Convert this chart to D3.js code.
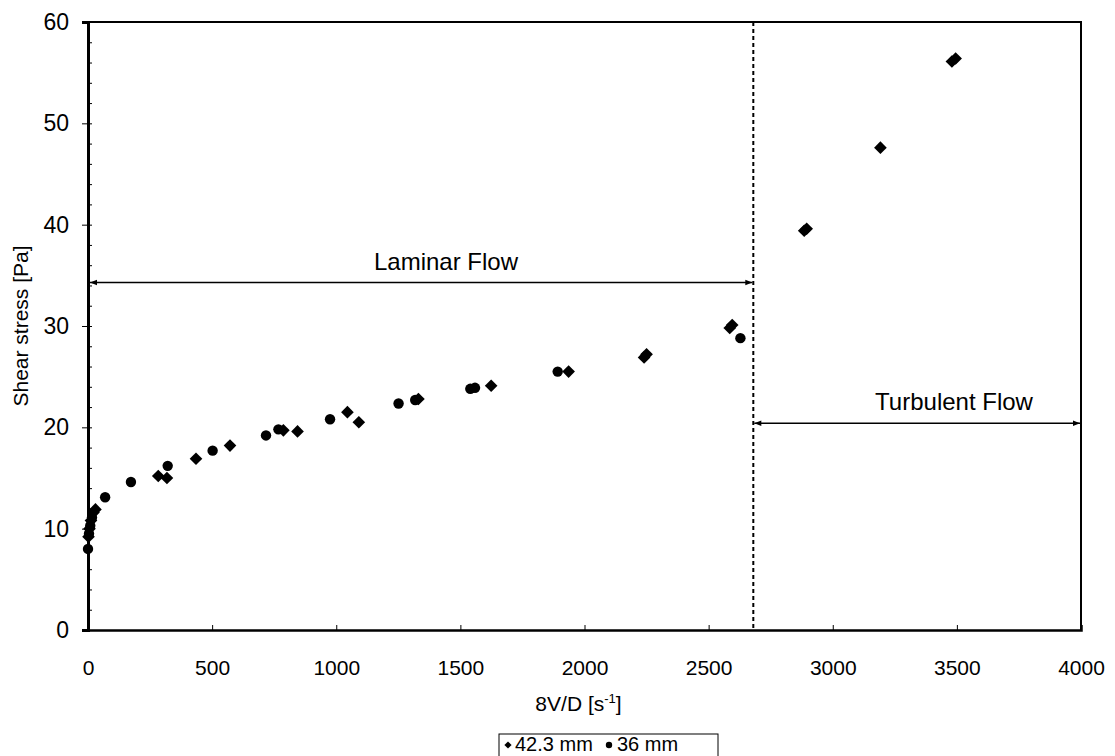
<!DOCTYPE html>
<html>
<head>
<meta charset="utf-8">
<script src="https://cdn.jsdelivr.net/npm/d3@7"></script>
<style>
    body { margin: 0; background: #fff; }
    svg { display: block; font-family: "Liberation Sans", Arial, sans-serif; }
</style>
</head>
<body>
<div id="chart"></div>
<script>
// 42.3 mm pipe (diamonds)
const pipe42X = [2, 6, 12, 22, 30, 283, 318, 435, 572, 787, 844, 1045, 1091, 1331, 1624, 1936,
    2240, 2250, 2585, 2595, 2885, 2895, 3192, 3480, 3495];
const pipe42Y = [9.2, 10.0, 10.8, 11.6, 11.9, 15.2, 15.0, 16.9, 18.2, 19.7, 19.6, 21.5, 20.5, 22.8, 24.1, 25.5,
    26.9, 27.2, 29.8, 30.1, 39.4, 39.6, 47.6, 56.1, 56.4];

// 36 mm pipe (circles)
const pipe36X = [0, 4, 9, 16, 69, 173, 321, 502, 717, 767, 975, 1251, 1318, 1540, 1559, 1892, 2628];
const pipe36Y = [8.0, 9.5, 10.3, 11.1, 13.1, 14.6, 16.2, 17.7, 19.2, 19.8, 20.8, 22.35, 22.7, 23.8, 23.9, 25.5, 28.8];

const xTicks = [0, 500, 1000, 1500, 2000, 2500, 3000, 3500, 4000];
const yTicks = [0, 10, 20, 30, 40, 50, 60];
const yMinorTicks = d3.range(0, 61, 2);

// flow regime boundary and arrow levels
const transitionX = 2680;
const laminarArrowY = 34.3;
const turbulentArrowY = 20.4;

const ShearChart = {
    init() {
        this.width = 1115;
        this.height = 756;
        this.svg = d3.select('#chart').append('svg')
            .attr('width', this.width)
            .attr('height', this.height);

        this.x = d3.scaleLinear().domain([0, 4000]).range([88, 1081]);
        this.y = d3.scaleLinear().domain([0, 60]).range([630, 22]);

        this.defineArrows();
        this.drawAxes();
        this.drawRegimes();
        this.drawPoints();
        this.drawLegend();
    },

    defineArrows() {
        const defs = this.svg.append('defs');
        ['end', 'start'].forEach(name => {
            defs.append('marker')
                .attr('id', 'arrow-' + name)
                .attr('viewBox', '0 -5 10 10')
                .attr('refX', name === 'end' ? 10 : 0)
                .attr('refY', 0)
                .attr('markerWidth', 10)
                .attr('markerHeight', 7)
                .attr('markerUnits', 'userSpaceOnUse')
                .attr('orient', 'auto')
                .append('path')
                .attr('d', name === 'end' ? 'M0,-4L10,0L0,4Z' : 'M10,-4L0,0L10,4Z')
                .attr('fill', '#000');
        });
    },

    drawAxes() {
        const { svg, x, y } = this;
        const [x0, x1] = x.range();
        const [y0, y1] = y.range();

        // frame: top and right edges
        svg.append('path')
            .attr('d', `M${x0},${y1}H${x1}V${y0}`)
            .attr('fill', 'none')
            .attr('stroke', '#000')
            .attr('stroke-width', 2);

        const xAxis = svg.append('g')
            .attr('transform', `translate(0,${y0})`)
            .call(d3.axisBottom(x).tickValues(xTicks).tickSize(-5).tickPadding(0).tickFormat(d3.format('d')));
        xAxis.select('.domain').attr('stroke-width', 2.5);
        xAxis.selectAll('.tick text')
            .attr('y', 45)
            .attr('dy', 0)
            .style('font-size', '21px')
            .attr('fill', '#000');

        // minor y ticks inside
        svg.append('g')
            .attr('transform', `translate(${x0},0)`)
            .call(d3.axisRight(y).tickValues(yMinorTicks).tickSize(4).tickFormat(''))
            .select('.domain').remove();

        const yAxis = svg.append('g')
            .attr('transform', `translate(${x0},0)`)
            .call(d3.axisLeft(y).tickValues(yTicks).tickSize(6).tickPadding(13));
        yAxis.select('.domain').attr('stroke-width', 3);
        yAxis.selectAll('.tick text')
            .style('font-size', '23px')
            .attr('fill', '#000');

        const xTitle = svg.append('text')
            .attr('x', (x0 + x1) / 2 - 6)
            .attr('y', 711)
            .attr('text-anchor', 'middle')
            .style('font-size', '21px');
        xTitle.append('tspan').text('8V/D [s');
        xTitle.append('tspan').attr('dy', -8).style('font-size', '13px').text('-1');
        xTitle.append('tspan').attr('dy', 8).text(']');

        svg.append('text')
            .attr('transform', `translate(28,${(y0 + y1) / 2}) rotate(-90)`)
            .attr('text-anchor', 'middle')
            .style('font-size', '21px')
            .text('Shear stress [Pa]');
    },

    drawRegimes() {
        const { svg, x, y } = this;

        svg.append('line')
            .attr('x1', x(transitionX)).attr('x2', x(transitionX))
            .attr('y1', y(60)).attr('y2', y(0))
            .attr('stroke', '#000')
            .attr('stroke-width', 2)
            .attr('stroke-dasharray', '4,3');

        svg.append('line')
            .attr('x1', x(0) + 2).attr('x2', x(transitionX) - 1)
            .attr('y1', y(laminarArrowY)).attr('y2', y(laminarArrowY))
            .attr('stroke', '#000')
            .attr('stroke-width', 1.5)
            .attr('marker-start', 'url(#arrow-start)')
            .attr('marker-end', 'url(#arrow-end)');

        svg.append('text')
            .attr('x', 446)
            .attr('y', 270)
            .attr('text-anchor', 'middle')
            .style('font-size', '24px')
            .text('Laminar Flow');

        svg.append('line')
            .attr('x1', x(transitionX) + 1).attr('x2', x(4000) - 1)
            .attr('y1', y(turbulentArrowY)).attr('y2', y(turbulentArrowY))
            .attr('stroke', '#000')
            .attr('stroke-width', 1.5)
            .attr('marker-start', 'url(#arrow-start)')
            .attr('marker-end', 'url(#arrow-end)');

        svg.append('text')
            .attr('x', 954)
            .attr('y', 410)
            .attr('text-anchor', 'middle')
            .style('font-size', '24px')
            .text('Turbulent Flow');
    },

    drawPoints() {
        const { svg, x, y } = this;
        const diamond = d3.symbol().type(d3.symbolSquare).size(80);
        const circle = d3.symbol().type(d3.symbolCircle).size(85);

        svg.append('g').selectAll('path')
            .data(d3.zip(pipe42X, pipe42Y))
            .join('path')
            .attr('d', diamond)
            .attr('transform', d => `translate(${x(d[0])},${y(d[1])}) rotate(45)`)
            .attr('fill', '#000');

        svg.append('g').selectAll('path')
            .data(d3.zip(pipe36X, pipe36Y))
            .join('path')
            .attr('d', circle)
            .attr('transform', d => `translate(${x(d[0])},${y(d[1])})`)
            .attr('fill', '#000');
    },

    drawLegend() {
        const { svg } = this;
        const g = svg.append('g').attr('transform', 'translate(499,734)');

        g.append('rect')
            .attr('width', 219)
            .attr('height', 40)
            .attr('fill', '#fff')
            .attr('stroke', '#000')
            .attr('stroke-width', 1);

        // entries: diamond then circle, laid out left to right
        g.append('path')
            .attr('d', d3.symbol().type(d3.symbolSquare).size(26))
            .attr('transform', 'translate(9,11) rotate(45)');
        g.append('text').attr('x', 16).attr('y', 17).style('font-size', '20px').text('42.3 mm');

        g.append('path')
            .attr('d', d3.symbol().type(d3.symbolCircle).size(32))
            .attr('transform', 'translate(110,11)');
        g.append('text').attr('x', 118).attr('y', 17).style('font-size', '20px').text('36 mm');
    }
};

ShearChart.init();
</script>
</body>
</html>
